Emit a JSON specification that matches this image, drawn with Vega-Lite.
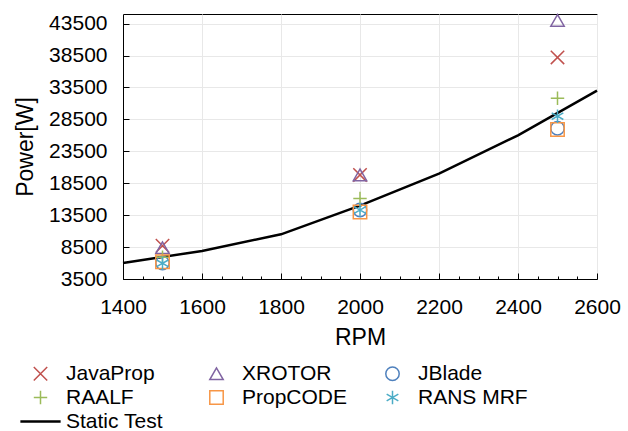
{
  "$schema": "https://vega.github.io/schema/vega-lite/v6.json",
  "width": 474,
  "height": 265,
  "autosize": {"type": "none"},
  "padding": {"left": 123, "top": 14, "right": 31, "bottom": 152},
  "config": {
    "font": "Liberation Sans",
    "view": {"stroke": "#000000", "strokeWidth": 1},
    "axis": {
      "domainColor": "#000000",
      "domainWidth": 1,
      "tickColor": "#000000",
      "tickWidth": 1,
      "labelColor": "#000000",
      "labelFontSize": 21,
      "titleColor": "#000000",
      "titleFontSize": 23,
      "titleFontWeight": "normal",
      "gridColor": "#e8e8e8",
      "gridWidth": 1
    }
  },
  "datasets": {
    "static": [
      {"series": "Static Test", "rpm": 1400, "power": 6000},
      {"series": "Static Test", "rpm": 1600, "power": 7900},
      {"series": "Static Test", "rpm": 1800, "power": 10500},
      {"series": "Static Test", "rpm": 2000, "power": 15000},
      {"series": "Static Test", "rpm": 2200, "power": 20000},
      {"series": "Static Test", "rpm": 2400, "power": 26000},
      {"series": "Static Test", "rpm": 2600, "power": 33000}
    ],
    "codes": [
      {"series": "JavaProp", "rpm": 1500, "power": 8700},
      {"series": "JavaProp", "rpm": 2000, "power": 19800},
      {"series": "JavaProp", "rpm": 2500, "power": 38200},
      {"series": "XROTOR", "rpm": 1500, "power": 8400},
      {"series": "XROTOR", "rpm": 2000, "power": 19800},
      {"series": "XROTOR", "rpm": 2500, "power": 44000},
      {"series": "JBlade", "rpm": 1500, "power": 6000},
      {"series": "JBlade", "rpm": 2000, "power": 14300},
      {"series": "JBlade", "rpm": 2500, "power": 27100},
      {"series": "RAALF", "rpm": 1500, "power": 6900},
      {"series": "RAALF", "rpm": 2000, "power": 16100},
      {"series": "RAALF", "rpm": 2500, "power": 31800},
      {"series": "PropCODE", "rpm": 1500, "power": 6200},
      {"series": "PropCODE", "rpm": 2000, "power": 14000},
      {"series": "PropCODE", "rpm": 2500, "power": 26900},
      {"series": "RANS MRF", "rpm": 1500, "power": 5950},
      {"series": "RANS MRF", "rpm": 2000, "power": 14300},
      {"series": "RANS MRF", "rpm": 2500, "power": 29000}
    ]
  },
  "encoding": {
    "x": {
      "field": "rpm",
      "type": "quantitative",
      "title": "RPM",
      "scale": {"domain": [1400, 2600], "nice": false, "zero": false},
      "axis": {
        "values": [1400, 1450, 1500, 1550, 1600, 1650, 1700, 1750, 1800, 1850, 1900, 1950, 2000, 2050, 2100, 2150, 2200, 2250, 2300, 2350, 2400, 2450, 2500, 2550, 2600],
        "labelExpr": "datum.value % 200 === 0 ? datum.label : ''",
        "format": "d",
        "tickSize": {"condition": {"test": "datum.value % 200 === 0", "value": -6}, "value": -3},
        "gridOpacity": {"condition": {"test": "datum.value % 200 === 0", "value": 1}, "value": 0},
        "labelPadding": 23,
        "titlePadding": 6,
        "labelFlush": false,
        "labelOverlap": false
      }
    },
    "y": {
      "field": "power",
      "type": "quantitative",
      "title": "Power[W]",
      "scale": {"domain": [3500, 45000], "nice": false, "zero": false},
      "axis": {
        "values": [3500, 8500, 13500, 18500, 23500, 28500, 33500, 38500, 43500],
        "format": "d",
        "tickSize": -6,
        "labelPadding": 22,
        "titlePadding": 11,
        "labelFlush": false,
        "labelOverlap": false
      }
    },
    "color": {
      "field": "series",
      "type": "nominal",
      "scale": {
        "domain": ["JavaProp", "XROTOR", "JBlade", "RAALF", "PropCODE", "RANS MRF", "Static Test"],
        "range": ["#C0504D", "#8064A2", "#4F81BD", "#9BBB59", "#F79646", "#4BACC6", "#000000"]
      },
      "legend": {
        "title": null,
        "orient": "none",
        "direction": "horizontal",
        "legendX": -93,
        "legendY": 349,
        "columns": 3,
        "gridAlign": "all",
        "columnPadding": 30,
        "rowPadding": 2,
        "padding": 0,
        "labelFontSize": 21,
        "labelColor": "#000000",
        "labelOffset": 15,
        "symbolSize": 180,
        "symbolStrokeWidth": 1.5,
        "symbolFillColor": "transparent",
        "encode": {
          "symbols": {
            "update": {
              "strokeWidth": {"signal": "datum.value === 'Static Test' ? 2.5 : 1.5"},
              "fill": {"value": "transparent"}
            }
          }
        }
      }
    }
  },
  "layer": [
    {
      "data": {"name": "static"},
      "mark": {"type": "line", "strokeWidth": 2.5, "interpolate": "linear"}
    },
    {
      "data": {"name": "codes"},
      "mark": {"type": "point", "filled": false, "size": 180, "strokeWidth": 1.5, "opacity": 1},
      "encoding": {
        "shape": {
          "field": "series",
          "type": "nominal",
          "scale": {
            "domain": ["JavaProp", "XROTOR", "JBlade", "RAALF", "PropCODE", "RANS MRF", "Static Test"],
            "range": [
              "M-1,-1L1,1M-1,1L1,-1",
              "triangle-up",
              "circle",
              "M-1,0L1,0M0,-1L0,1",
              "square",
              "M0,-1L0,1M-0.87,-0.5L0.87,0.5M-0.87,0.5L0.87,-0.5",
              "M-3,0L3,0"
            ]
          }
        }
      }
    }
  ]
}
